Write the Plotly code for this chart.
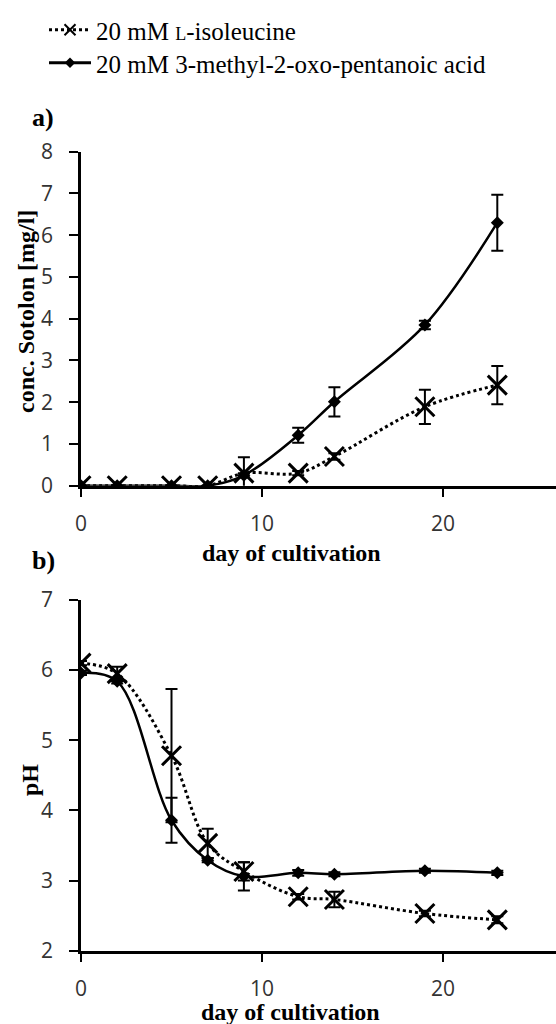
import plotly.graph_objects as go

W, H = 556, 1024

days = [0, 2, 5, 7, 9, 12, 14, 19, 23]

# panel a: conc. Sotolon [mg/l]
sot_ile = [0, 0, 0, 0, 0.30, 0.30, 0.70, 1.89, 2.41]
sot_ile_err = [0, 0, 0, 0, 0.38, 0.05, 0.08, 0.41, 0.46]
sot_keto = [0, 0, 0, 0, 0.25, 1.21, 2.01, 3.85, 6.30]
sot_keto_err = [0, 0, 0, 0, 0.05, 0.18, 0.35, 0.10, 0.67]

# panel b: pH
ph_ile = [6.10, 5.95, 4.78, 3.53, 3.13, 2.77, 2.73, 2.53, 2.44]
ph_ile_err = [0.03, 0.10, 0.95, 0.21, 0.13, 0.04, 0.11, 0.04, 0.05]
ph_keto = [5.96, 5.84, 3.86, 3.29, 3.06, 3.11, 3.09, 3.14, 3.11]
ph_keto_err = [0.03, 0.03, 0.32, 0.03, 0.20, 0.04, 0.03, 0.03, 0.03]

names = ['20 mM <span style="font-size:18px">L</span>-isoleucine',
         '20 mM 3-methyl-2-oxo-pentanoic acid']

TICKFONT = dict(family="Open Sans", size=21, color="#333333")
SERIF = "Liberation Serif"


def px_x(p):
    return p / W


def px_y(p):
    return 1 - p / H


fig = go.Figure()

ILE_LINE = dict(color="black", width=3, dash="dot", shape="spline", smoothing=1)
KETO_LINE = dict(color="black", width=2.5, shape="spline", smoothing=1)


def err(arr):
    return dict(type="data", array=arr, visible=True, color="black",
                thickness=2, width=6)


def ile_marker(size):
    return dict(symbol="x-thin", size=size, color="black",
                line=dict(color="black", width=3 if size > 12 else 2))


def keto_marker(size):
    return dict(symbol="diamond", size=size, color="black")


for xa, ya, yi, ei, yk, ek in [("x", "y", sot_ile, sot_ile_err, sot_keto, sot_keto_err),
                               ("x2", "y2", ph_ile, ph_ile_err, ph_keto, ph_keto_err)]:
    fig.add_trace(go.Scatter(x=days, y=yi, error_y=err(ei), name=names[0], mode="lines+markers",
                             line=ILE_LINE, marker=ile_marker(19),
                             xaxis=xa, yaxis=ya, showlegend=False))
    fig.add_trace(go.Scatter(x=days, y=yk, error_y=err(ek), name=names[1], mode="lines+markers",
                             line=KETO_LINE, marker=keto_marker(10),
                             xaxis=xa, yaxis=ya, showlegend=False))

# legend-only entries (no data drawn)
fig.add_trace(go.Scatter(x=[None], y=[None], name=names[0], mode="lines+markers",
                         line=dict(color="black", width=3, dash="dot"), marker=ile_marker(11),
                         legend="legend", showlegend=True))
fig.add_trace(go.Scatter(x=[None], y=[None], name=names[1], mode="lines+markers",
                         line=dict(color="black", width=3), marker=keto_marker(8),
                         legend="legend2", showlegend=True))

x_dom = [px_x(81), 1.0]
x_rng = [0, (W - 81) / 18.1]

common_x = dict(range=x_rng, domain=x_dom, tickvals=[0, 10, 20], ticks="outside",
                ticklen=9, tickwidth=2, tickcolor="black", showline=True,
                linecolor="black", linewidth=2.5, showgrid=False, zeroline=False,
                tickfont=TICKFONT, ticklabelstandoff=8, automargin=False)
common_y = dict(ticks="outside", ticklen=9, tickwidth=2, tickcolor="black",
                showline=True, linecolor="black", linewidth=2.5, showgrid=False,
                zeroline=False, tickfont=TICKFONT, ticklabelstandoff=12,
                automargin=False, dtick=1)

LEGFONT = dict(family=SERIF, size=25, color="black")
fig.update_layout(
    width=W, height=H,
    font=dict(family=SERIF, size=25, color="black"),
    margin=dict(l=0, r=0, t=0, b=0),
    paper_bgcolor="white", plot_bgcolor="white",
    showlegend=True,
    legend=dict(x=px_x(44), y=px_y(30), xanchor="left", yanchor="middle",
                font=LEGFONT, itemwidth=42, bgcolor="rgba(0,0,0,0)"),
    legend2=dict(x=px_x(44), y=px_y(63), xanchor="left", yanchor="middle",
                 font=LEGFONT, itemwidth=42, bgcolor="rgba(0,0,0,0)"),
    xaxis=dict(anchor="y", **common_x),
    yaxis=dict(anchor="x", range=[0, 8], domain=[px_y(485.7), px_y(151.7)], **common_y),
    xaxis2=dict(anchor="y2", **common_x),
    yaxis2=dict(anchor="x2", range=[2, 7], domain=[px_y(950.7), px_y(600)], **common_y),
)

bold = dict(family=SERIF, size=24, color="black")
ann = [
    dict(text="<b>a)</b>", x=px_x(30), y=px_y(117), xanchor="left", yanchor="middle",
         font=dict(family=SERIF, size=26, color="black")),
    dict(text="<b>b)</b>", x=px_x(30), y=px_y(560), xanchor="left", yanchor="middle",
         font=dict(family=SERIF, size=26, color="black")),
    dict(text="<b>day of cultivation</b>", x=px_x(291), y=px_y(553), xanchor="center",
         yanchor="middle", font=bold),
    dict(text="<b>day of cultivation</b>", x=px_x(290), y=px_y(1012), xanchor="center",
         yanchor="middle", font=bold),
    dict(text="<b>conc. Sotolon [mg/l]</b>", x=px_x(26), y=px_y(312), xanchor="center",
         yanchor="middle", textangle=-90, font=bold),
    dict(text="<b>pH</b>", x=px_x(30), y=px_y(780), xanchor="center",
         yanchor="middle", textangle=-90, font=bold),
]
for a in ann:
    a.update(xref="paper", yref="paper", showarrow=False)
fig.update_layout(annotations=ann)

fig.write_html("out.html")
